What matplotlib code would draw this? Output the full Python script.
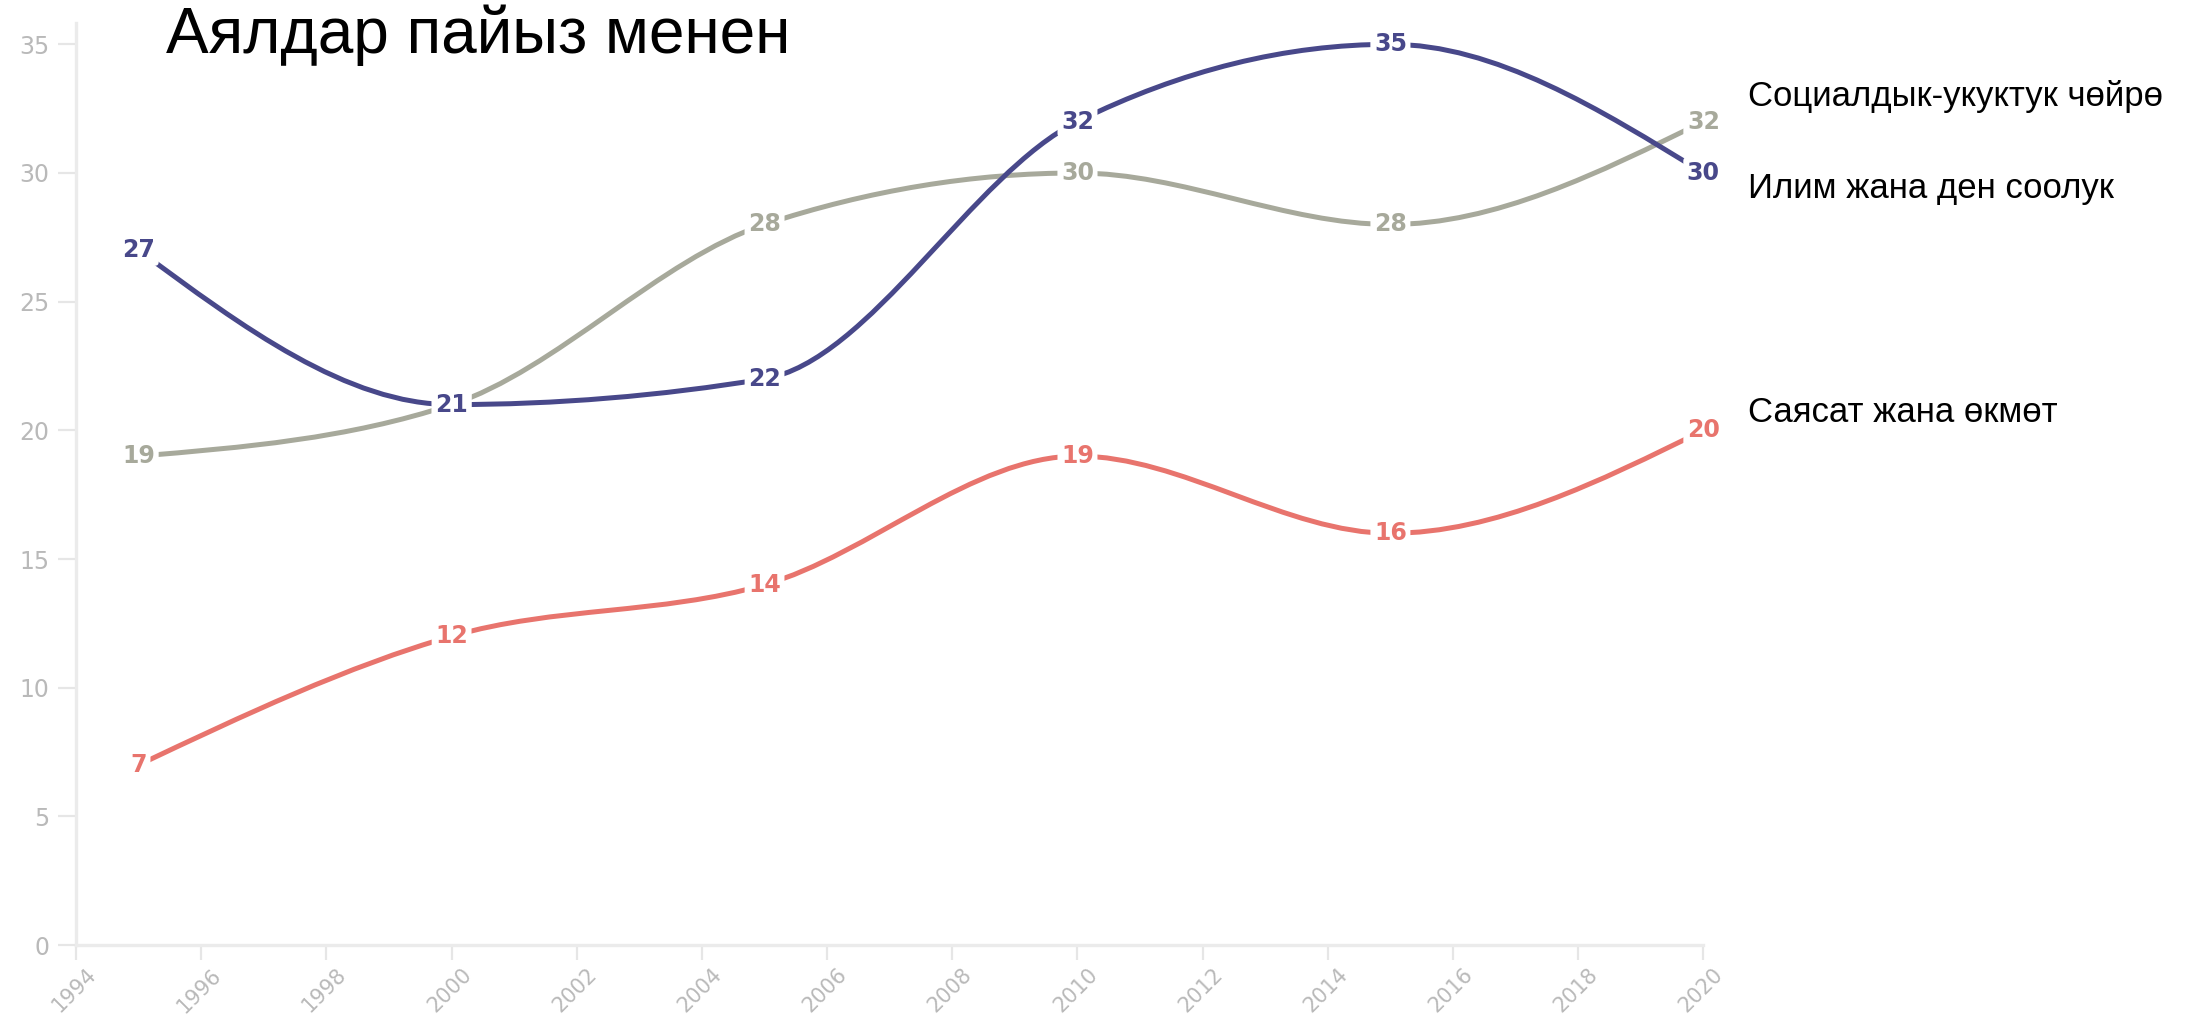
import matplotlib
matplotlib.use('Agg')
import matplotlib.pyplot as plt
import numpy as np
from matplotlib.path import Path
from matplotlib.patches import PathPatch
from matplotlib.transforms import ScaledTranslation

years = [1995, 2000, 2005, 2010, 2015, 2020]
social = [19, 21, 28, 30, 28, 32]
science = [27, 21, 22, 32, 35, 30]
politics = [7, 12, 14, 19, 16, 20]
series = [social, science, politics]
names = ['Социалдык-укуктук чөйрө', 'Илим жана ден соолук', 'Саясат жана өкмөт']
colors = ['#a7a99b', '#48488a', '#e8746d']
title = 'Аялдар пайыз менен'
xticks = list(range(1994, 2021, 2))
yticks = list(range(0, 36, 5))


def monotone_path(x, y):
    # monotone-x cubic curve, same idea as d3.curveMonotoneX
    x = np.asarray(x, float)
    y = np.asarray(y, float)
    n = len(x)
    h = np.diff(x)
    s = np.diff(y) / h
    t = np.zeros(n)
    for i in range(1, n - 1):
        p = (s[i - 1] * h[i] + s[i] * h[i - 1]) / (h[i - 1] + h[i])
        t[i] = (np.sign(s[i - 1]) + np.sign(s[i])) * min(abs(s[i - 1]), abs(s[i]), 0.5 * abs(p))
    t[0] = (3 * s[0] - t[1]) / 2
    t[-1] = (3 * s[-1] - t[-2]) / 2
    verts = [(x[0], y[0])]
    codes = [Path.MOVETO]
    for i in range(n - 1):
        dx = h[i] / 3
        verts += [(x[i] + dx, y[i] + dx * t[i]),
                  (x[i + 1] - dx, y[i + 1] - dx * t[i + 1]),
                  (x[i + 1], y[i + 1])]
        codes += [Path.CURVE4] * 3
    return Path(verts, codes)


fig = plt.figure(figsize=(21.99, 10.22), dpi=100)
ax = fig.add_axes([0.0346, 0.0753, 0.740, 0.902])

for vals, col in zip(series, colors):
    ax.add_patch(PathPatch(monotone_path(years, vals), fill=False, edgecolor=col,
                           lw=3.6, capstyle='round', zorder=2))

for vals, col in zip(series, colors):
    for x, v in zip(years, vals):
        ax.text(x, v, str(v), color=col, fontsize=17, fontweight='bold',
                family='DejaVu Sans', ha='center', va='center', zorder=3, clip_on=False,
                bbox=dict(boxstyle='round,pad=0.15', fc='white', ec='none'))

ax.set_xlim(1994, 2020)
ax.set_ylim(0, 35.82)
ax.set_xticks(xticks)
ax.set_yticks(yticks)
ax.set_xticklabels([str(v) for v in xticks], rotation=45, ha='right', va='top',
                   rotation_mode='anchor')
for s in ['top', 'right']:
    ax.spines[s].set_visible(False)
for s in ['left', 'bottom']:
    ax.spines[s].set_color('#ebebeb')
    ax.spines[s].set_linewidth(2.4)
ax.tick_params(axis='both', colors='#e6e6e6', labelcolor='#b9b9b9', width=1.6)
ax.tick_params(axis='y', length=13, pad=6, labelsize=17)
ax.tick_params(axis='x', length=11, pad=3, labelsize=15)
shift = ScaledTranslation(7 / 72, 0, fig.dpi_scale_trans)
for lab in ax.get_xticklabels():
    lab.set_transform(lab.get_transform() + shift)

fig.text(0.0755, 0.948, title, fontsize=46, family='Liberation Sans', va='baseline')
for name, yf in zip(names, [0.9055, 0.8155, 0.5965]):
    fig.text(0.795, yf, name, fontsize=25, family='Liberation Sans', va='center')

fig.savefig('out.png', dpi=100)
